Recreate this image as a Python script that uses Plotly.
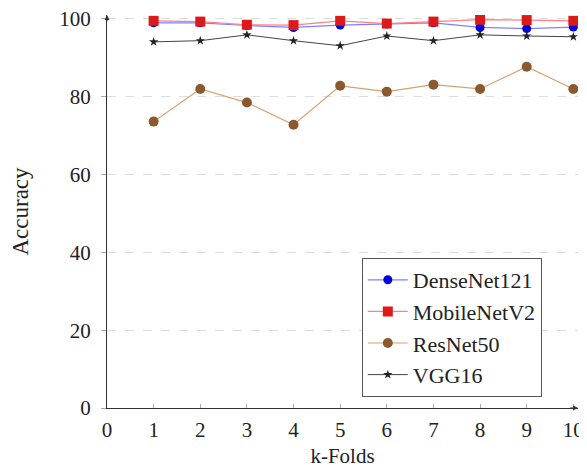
import plotly.graph_objects as go

folds = [1, 2, 3, 4, 5, 6, 7, 8, 9, 10]
densenet121 = [99.0, 99.0, 98.3, 97.8, 98.4, 98.7, 99.0, 97.8, 97.5, 97.9]
mobilenetv2 = [99.5, 99.3, 98.5, 98.4, 99.5, 98.8, 99.3, 99.8, 99.7, 99.5]
resnet50 = [73.6, 82.0, 78.5, 72.8, 82.8, 81.3, 83.1, 82.0, 87.7, 82.0]
vgg16 = [94.1, 94.4, 95.9, 94.4, 93.1, 95.6, 94.4, 95.9, 95.6, 95.4]

font = "Liberation Serif"
fig = go.Figure()
fig.add_trace(go.Scatter(x=folds, y=densenet121, name="DenseNet121", mode="lines+markers",
                         line=dict(color="#8080ff", width=1.2),
                         marker=dict(color="#0000e0", size=9, symbol="circle")))
fig.add_trace(go.Scatter(x=folds, y=mobilenetv2, name="MobileNetV2", mode="lines+markers",
                         line=dict(color="#ff8080", width=1.2),
                         marker=dict(color="#dd1a1a", size=10, symbol="square")))
fig.add_trace(go.Scatter(x=folds, y=resnet50, name="ResNet50", mode="lines+markers",
                         line=dict(color="#d8a070", width=1.2),
                         marker=dict(color="#8a5a2e", size=10, symbol="circle")))
fig.add_trace(go.Scatter(x=folds, y=vgg16, name="VGG16", mode="lines+markers",
                         line=dict(color="#444444", width=1),
                         marker=dict(color="#222222", size=7, symbol="star")))

# page body has an 8px margin: shift the figure so the plot area lands where it should
fig.update_layout(
    width=579, height=467,
    margin=dict(l=99, r=9, t=7, b=67),
    plot_bgcolor="white", paper_bgcolor="white",
    font=dict(family=font, size=22, color="#222222"),
    xaxis=dict(range=[0, 10.1], tickvals=list(range(0, 11)), showgrid=False,
               zeroline=False, showline=True, linecolor="#333333", linewidth=1,
               ticks="inside", ticklen=4, tickcolor="#aaaaaa", automargin=False,
               tickfont=dict(size=21), ticklabelstandoff=3, ticklabeloverflow="allow",
               title=dict(text="k-Folds", font=dict(size=21), standoff=7)),
    yaxis=dict(range=[0, 101], tickvals=[0, 20, 40, 60, 80, 100], showgrid=True,
               gridcolor="#dddddd", griddash="dash", gridwidth=1,
               zeroline=False, showline=True, linecolor="#333333", linewidth=1,
               ticks="outside", ticklen=5, tickcolor="#aaaaaa", automargin=False,
               tickfont=dict(size=21), ticklabelstandoff=6, ticklabeloverflow="allow",
               title=dict(text="Accuracy", font=dict(size=23), standoff=30)),
    legend=dict(x=0.541, y=0.028, xanchor="left", yanchor="bottom",
                bordercolor="#555555", borderwidth=1, bgcolor="white",
                font=dict(family=font, size=22), tracegroupgap=0,
                itemwidth=40),
    showlegend=True,
)

# axis arrows
fig.add_annotation(x=10.1, y=0, ax=9.9, ay=0, xref="x", yref="y", axref="x", ayref="y",
                   showarrow=True, arrowhead=2, arrowsize=1, arrowwidth=1, arrowcolor="#333333", text="")
fig.add_annotation(x=0, y=101, ax=0, ay=99, xref="x", yref="y", axref="x", ayref="y",
                   showarrow=True, arrowhead=2, arrowsize=1, arrowwidth=1, arrowcolor="#333333", text="")

fig.write_html("out.html")
